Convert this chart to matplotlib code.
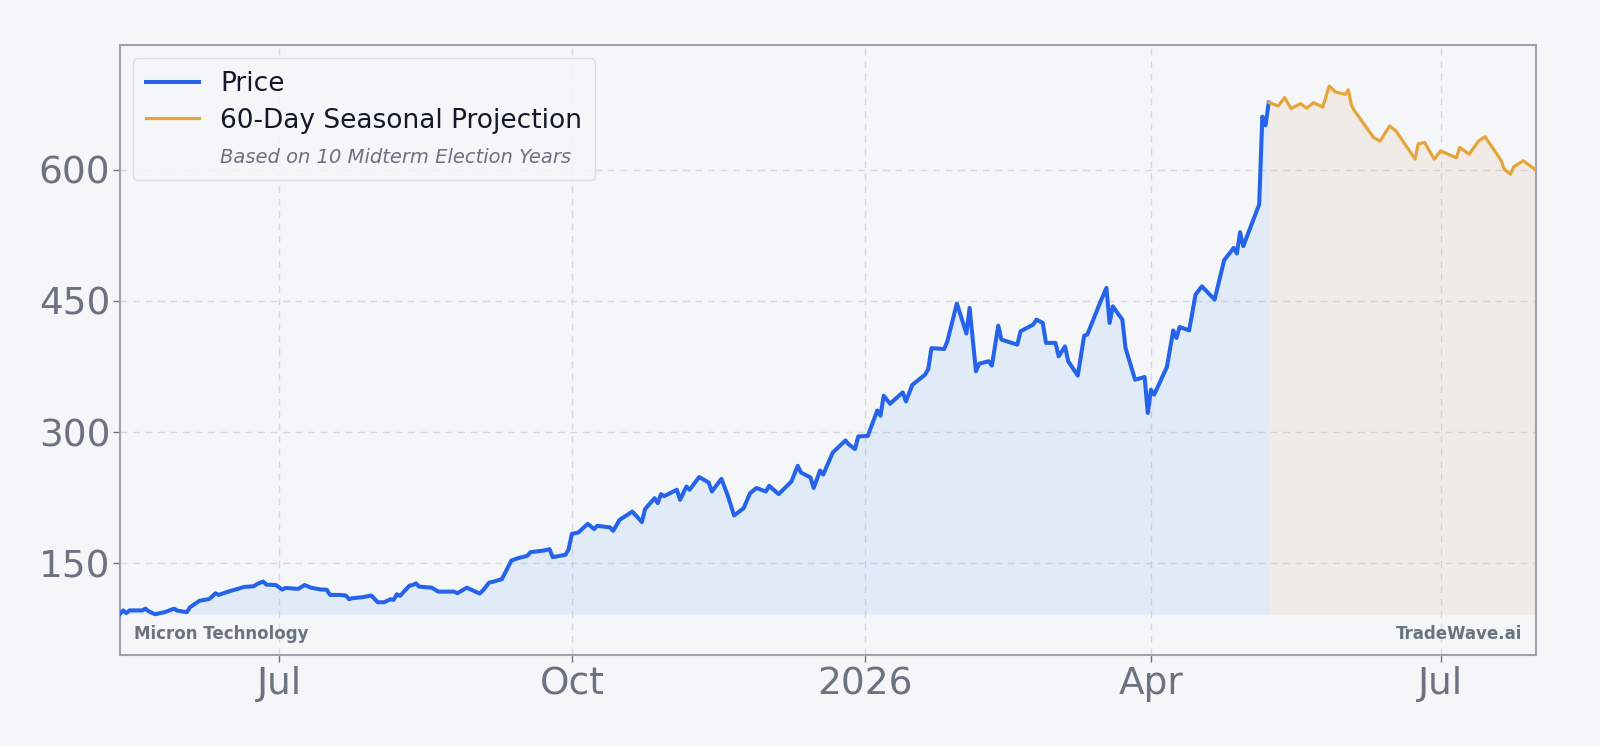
import numpy as np
import pandas as pd
import matplotlib.pyplot as plt
import matplotlib.dates as mdates
from matplotlib.lines import Line2D

# datos de precio
price_dates = [
    "2025-05-12", "2025-05-13", "2025-05-14", "2025-05-15", "2025-05-19", "2025-05-20",
    "2025-05-21", "2025-05-23", "2025-05-26", "2025-05-29", "2025-05-30", "2025-06-02",
    "2025-06-03", "2025-06-06", "2025-06-09", "2025-06-10", "2025-06-11", "2025-06-12",
    "2025-06-15", "2025-06-18", "2025-06-20", "2025-06-23", "2025-06-24", "2025-06-26",
    "2025-06-27", "2025-06-30", "2025-07-02", "2025-07-03", "2025-07-07", "2025-07-09",
    "2025-07-11", "2025-07-14", "2025-07-16", "2025-07-17", "2025-07-20", "2025-07-22",
    "2025-07-23", "2025-07-24", "2025-07-27", "2025-07-30", "2025-08-01", "2025-08-03",
    "2025-08-05", "2025-08-06", "2025-08-07", "2025-08-08", "2025-08-11", "2025-08-12",
    "2025-08-13", "2025-08-14", "2025-08-18", "2025-08-20", "2025-08-25", "2025-08-26",
    "2025-08-29", "2025-09-02", "2025-09-03", "2025-09-05", "2025-09-06", "2025-09-09",
    "2025-09-12", "2025-09-14", "2025-09-17", "2025-09-18", "2025-09-22", "2025-09-24",
    "2025-09-25", "2025-09-29", "2025-09-30", "2025-10-01", "2025-10-03", "2025-10-06",
    "2025-10-08", "2025-10-09", "2025-10-13", "2025-10-14", "2025-10-16", "2025-10-20",
    "2025-10-23", "2025-10-24", "2025-10-27", "2025-10-28", "2025-10-29", "2025-10-30",
    "2025-11-03", "2025-11-04", "2025-11-06", "2025-11-07", "2025-11-10", "2025-11-13",
    "2025-11-14", "2025-11-17", "2025-11-19", "2025-11-21", "2025-11-24", "2025-11-26",
    "2025-11-28", "2025-12-01", "2025-12-02", "2025-12-05", "2025-12-09", "2025-12-11",
    "2025-12-12", "2025-12-15", "2025-12-16", "2025-12-18", "2025-12-19", "2025-12-22",
    "2025-12-26", "2025-12-27", "2025-12-29", "2025-12-30", "2026-01-02", "2026-01-05",
    "2026-01-06", "2026-01-07", "2026-01-09", "2026-01-13", "2026-01-14", "2026-01-16",
    "2026-01-20", "2026-01-21", "2026-01-22", "2026-01-26", "2026-01-27", "2026-01-30",
    "2026-02-02", "2026-02-03", "2026-02-05", "2026-02-06", "2026-02-09", "2026-02-10",
    "2026-02-12", "2026-02-13", "2026-02-18", "2026-02-19", "2026-02-23", "2026-02-24",
    "2026-02-26", "2026-02-27", "2026-03-02", "2026-03-03", "2026-03-05", "2026-03-06",
    "2026-03-09", "2026-03-11", "2026-03-12", "2026-03-16", "2026-03-18", "2026-03-19",
    "2026-03-20", "2026-03-23", "2026-03-24", "2026-03-27", "2026-03-30", "2026-03-31",
    "2026-04-01", "2026-04-02", "2026-04-06", "2026-04-08", "2026-04-09", "2026-04-10",
    "2026-04-13", "2026-04-15", "2026-04-17", "2026-04-21", "2026-04-24", "2026-04-27",
    "2026-04-28", "2026-04-29", "2026-04-30", "2026-05-05", "2026-05-06", "2026-05-07",
    "2026-05-08",
]
price = [
    92, 96, 93, 96, 96, 98,
    95, 91.6, 94, 98, 95.7, 94,
    99.6, 107, 109, 112, 115.6, 113.7,
    117.5, 120.6, 122.9, 123.6, 126, 129,
    125.5, 125, 119.8, 121.7, 120.6, 125,
    122, 120, 119.6, 113.7, 113.7, 113,
    108.8, 110, 111, 113, 105.3, 105.3,
    108.8, 108, 114.5, 112.6, 124.4, 125,
    127, 123.2, 122, 117.5, 117.5, 115.6,
    122, 115.3, 118.6, 127.8, 128.6, 131.7,
    153, 155.7, 158.4, 162.6, 164.4, 166,
    156.9, 159.6, 166, 183.5, 185, 195,
    189, 192.7, 191, 187, 199.6, 209,
    197, 211.8, 224.4, 218.7, 229, 226.7,
    234, 222.5, 237.7, 234, 248.5, 242.3,
    232, 246.5, 227.4, 204.5, 213, 230,
    236, 232, 238.5, 229, 243.4, 261.4,
    253.7, 248, 236, 256, 251.4, 276.6,
    290.4, 286, 280.5, 295, 295.6, 324.7,
    318.7, 341.6, 332.4, 345.4, 335, 354,
    365.6, 372, 396, 395, 403.7, 447,
    412.6, 442, 369.4, 378.2, 381, 376,
    421.7, 405.7, 400, 415.2, 422.9, 428.6,
    424.8, 402, 402, 386.6, 398, 381,
    364.5, 410.3, 411.5, 448, 464.9, 424.8,
    443.8, 428.6, 396.2, 359.9, 363, 321.8,
    348.4, 342.7, 374.4, 416.3, 407.6, 420.2,
    416.3, 457.2, 466.7, 451.5, 496.5, 510.7,
    504.2, 528.6, 512.6, 560.3, 660.8, 650.8,
    677,
]

# proyeccion estacional de 60 dias
proj_dates = [
    "2026-05-08", "2026-05-11", "2026-05-13", "2026-05-15", "2026-05-18", "2026-05-20",
    "2026-05-22", "2026-05-25", "2026-05-27", "2026-05-29", "2026-06-01", "2026-06-02",
    "2026-06-03", "2026-06-04", "2026-06-10", "2026-06-12", "2026-06-15", "2026-06-17",
    "2026-06-23", "2026-06-24", "2026-06-26", "2026-06-29", "2026-07-01", "2026-07-06",
    "2026-07-07", "2026-07-10", "2026-07-13", "2026-07-15", "2026-07-20", "2026-07-21",
    "2026-07-23", "2026-07-24", "2026-07-27", "2026-07-31",
]
proj = [
    677, 673, 682.6, 670, 675.7, 670.4,
    676.8, 671.8, 695.8, 689, 686.3, 691.3,
    673.7, 667.3, 636.7, 632.9, 650.1, 644.4,
    612.2, 629.7, 631.3, 612.2, 621.6, 613.7,
    625.5, 617.9, 633.1, 637.7, 611, 600.7,
    595, 603.4, 610.3, 599.6,
]

yticks = [150, 300, 450, 600]

bg = '#f4f6f8'
blue = '#2563eb'
orange = '#e6a43a'
gray = '#6b7280'

price_dates = pd.to_datetime(price_dates)
proj_dates = pd.to_datetime(proj_dates)
base = min(price)

fig = plt.figure(figsize=(16, 7.46), dpi=100, facecolor=bg)
ax = fig.add_axes([0.075, 0.122, 0.885, 0.818])
ax.set_facecolor(bg)

ax.fill_between(price_dates, price, base, color='#3b82f6', alpha=0.1, linewidth=0)
ax.fill_between(proj_dates, proj, base, color='#d9a066', alpha=0.12, linewidth=0)
ax.plot(price_dates, price, color=blue, linewidth=2.9, zorder=3)
ax.plot(proj_dates, proj, color=orange, linewidth=2.3, zorder=3)

ax.set_xlim(price_dates[0], proj_dates[-1])
ax.set_ylim(45, 743)
ax.set_yticks(yticks)

ax.xaxis.set_major_locator(mdates.MonthLocator(bymonth=[1, 4, 7, 10]))
def fmt(x, pos):
    d = mdates.num2date(x)
    return str(d.year) if d.month == 1 else d.strftime('%b')
ax.xaxis.set_major_formatter(plt.FuncFormatter(fmt))

ax.grid(True, linestyle=(0, (5, 4)), color='#d5d9df', linewidth=1)
ax.set_axisbelow(True)
ax.tick_params(labelsize=27, colors=gray, length=5, width=1)
ax.tick_params(axis='x', pad=3)
ax.tick_params(axis='y', pad=2)
for s in ax.spines.values():
    s.set_color('#9ca3af')
    s.set_linewidth(1.5)

handles = [
    Line2D([], [], color=blue, linewidth=2.9),
    Line2D([], [], color=orange, linewidth=2.3),
    Line2D([], [], color='none'),
]
leg = ax.legend(handles, ['Price', '60-Day Seasonal Projection', 'Based on 10 Midterm Election Years'],
                loc='upper left', fontsize=19, frameon=True, facecolor=bg, edgecolor='#d5d9df',
                framealpha=0.9, borderpad=0.5, handlelength=2.0, labelspacing=0.4)
t = leg.get_texts()
for tx in t[:2]:
    tx.set_color('#111827')
t[2].set_fontsize(14)
t[2].set_style('italic')
t[2].set_color(gray)

ax.text(0.01, 0.02, 'Micron Technology', transform=ax.transAxes, fontsize=12,
        fontweight='bold', color=gray, va='bottom', ha='left')
ax.text(0.99, 0.02, 'TradeWave.ai', transform=ax.transAxes, fontsize=12,
        fontweight='bold', color=gray, va='bottom', ha='right')

plt.savefig('out.png', dpi=100, facecolor=bg)
